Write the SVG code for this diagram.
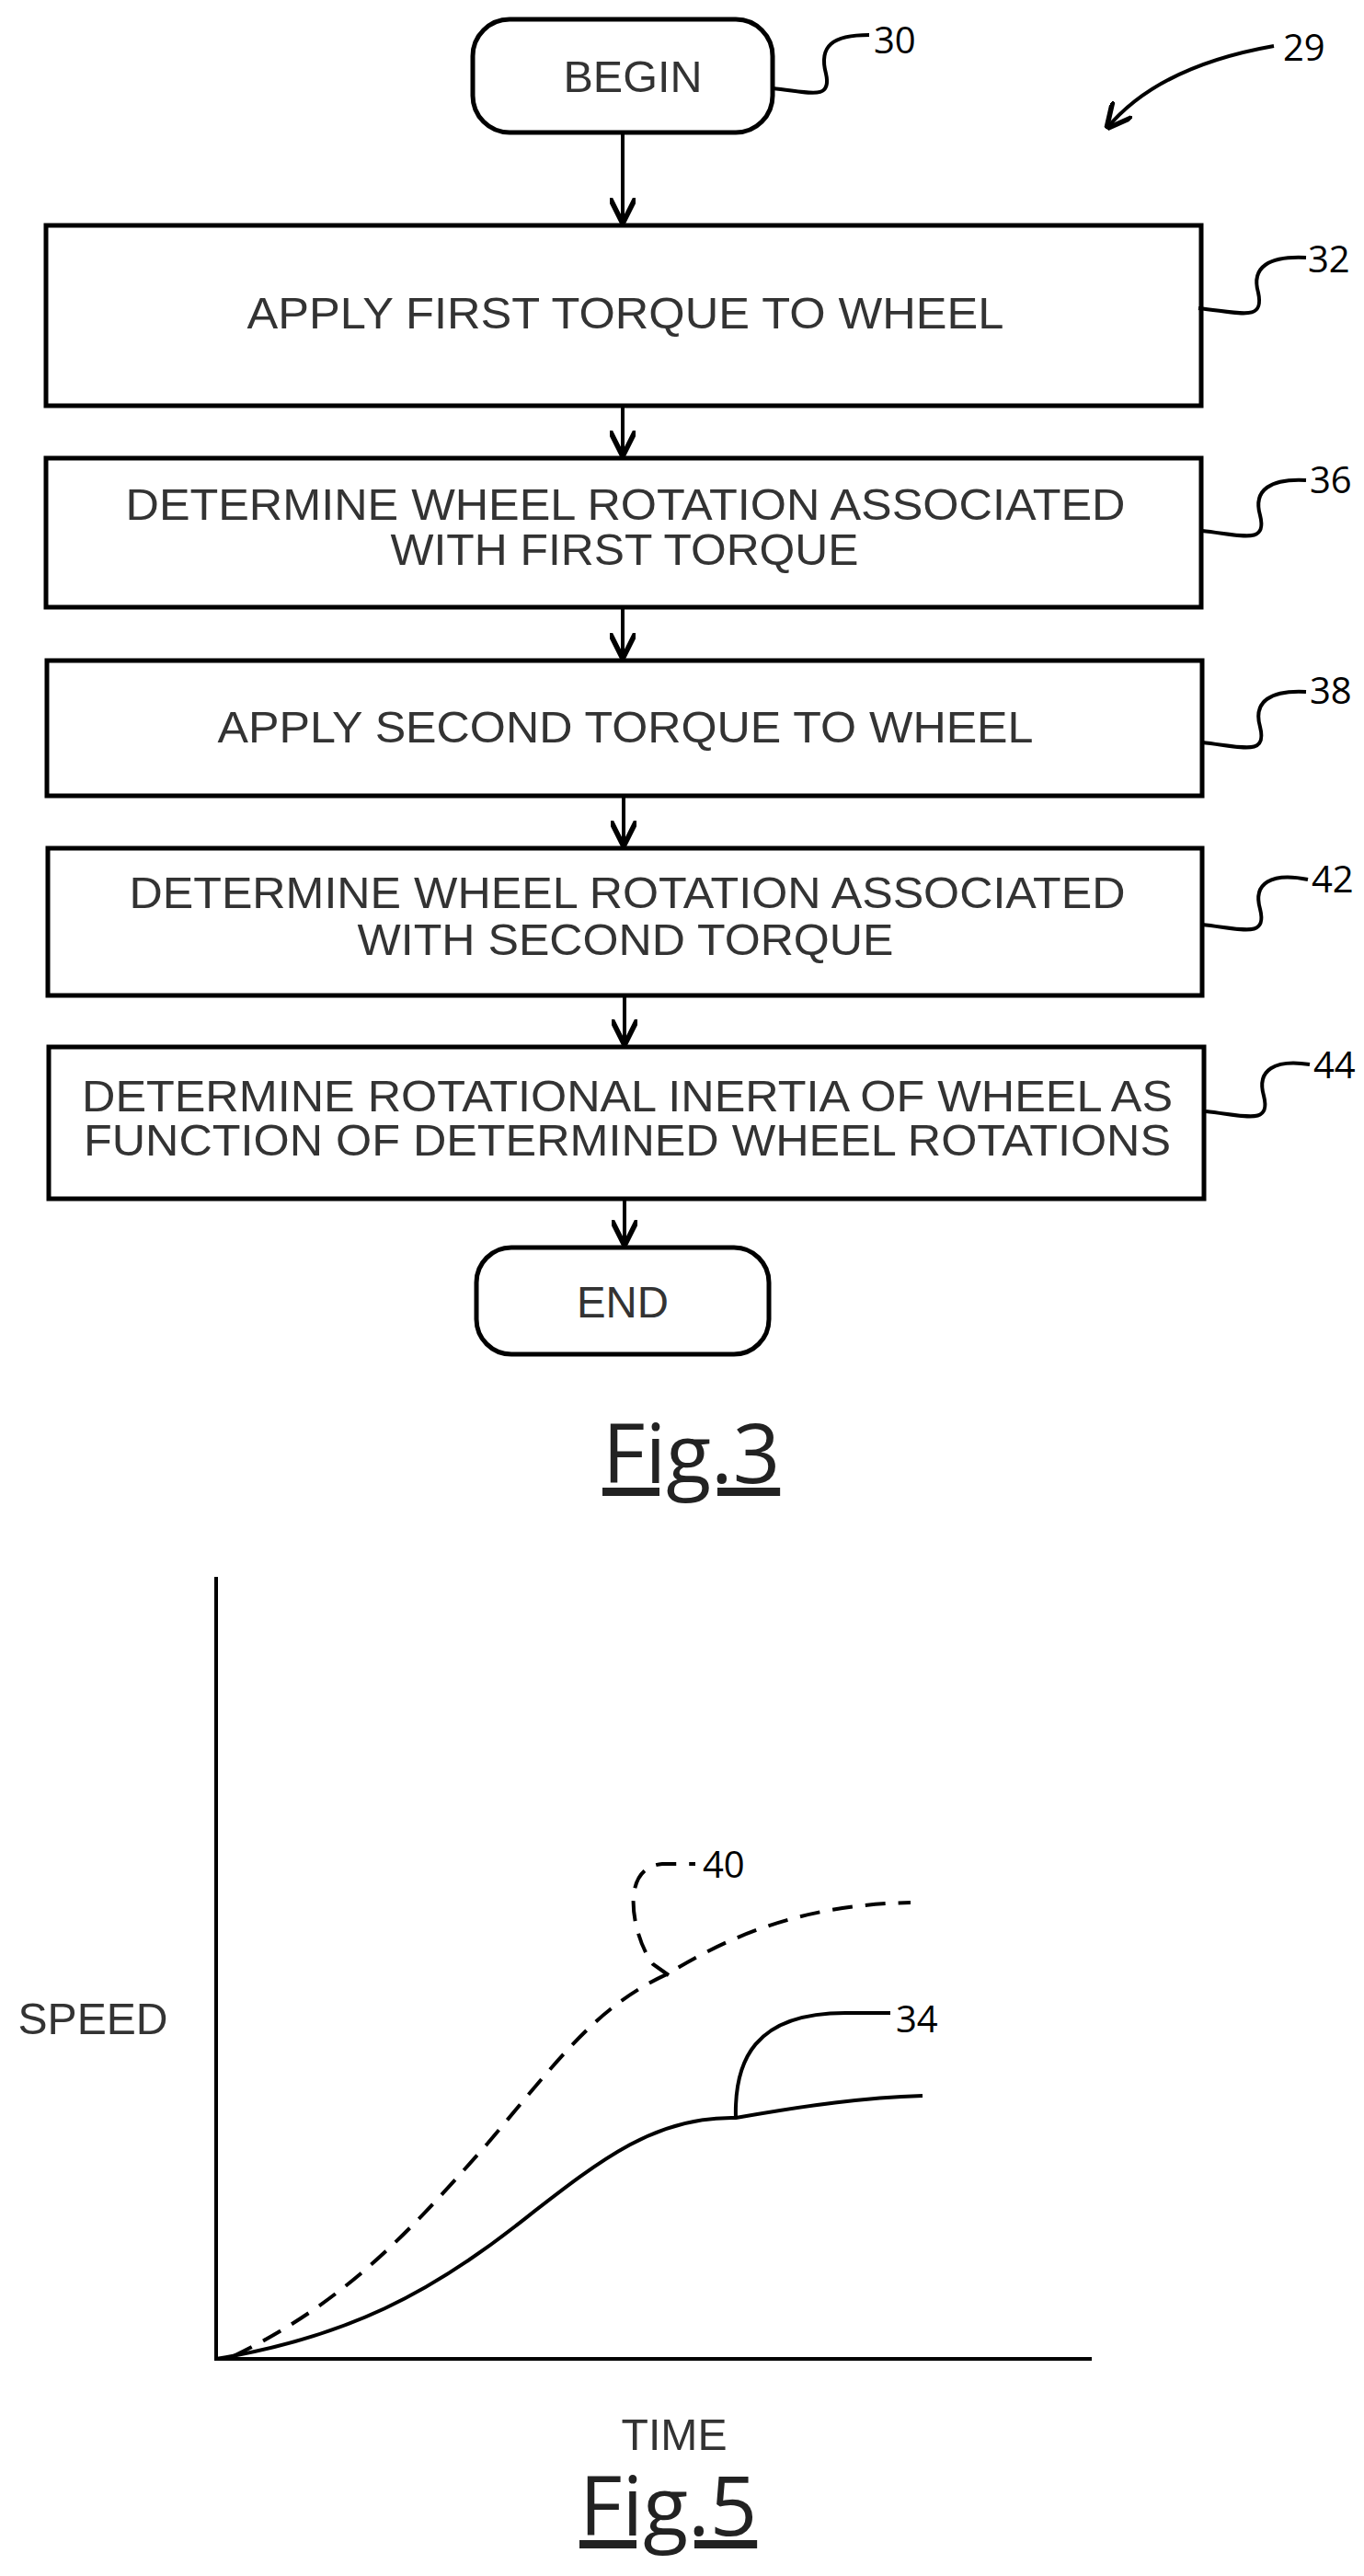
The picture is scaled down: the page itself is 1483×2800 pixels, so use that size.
<svg xmlns="http://www.w3.org/2000/svg" width="1483" height="2800" viewBox="0 0 1483 2800">
<defs>
<style>
.b{fill:#fff;stroke:#000;stroke-width:5}
.t{font-family:"Liberation Sans",Arial,sans-serif;font-size:48px;fill:#333;text-anchor:middle}
.n{font-family:"Open Sans","DejaVu Sans",sans-serif;font-size:40px;fill:#000}
.l{fill:none;stroke:#000;stroke-width:4}
.f{font-family:"Open Sans","DejaVu Sans",sans-serif;font-size:90px;fill:#222;text-decoration:underline}
</style>
<marker id="a" viewBox="0 0 10 10" refX="10" refY="5" markerWidth="7" markerHeight="7" orient="auto"><path d="M0,0 L10,5 L0,10" fill="none" stroke="#000" stroke-width="2"/></marker>
</defs>
<g id="n30"><rect class="b" x="514" y="21" width="326" height="123" rx="40"/><text class="t" x="688" y="100" textLength="151" lengthAdjust="spacingAndGlyphs">BEGIN</text></g>
<g id="n32"><rect class="b" x="50" y="245" width="1256" height="196"/><text class="t" x="680" y="357" textLength="823" lengthAdjust="spacingAndGlyphs">APPLY FIRST TORQUE TO WHEEL</text></g>
<g id="n36"><rect class="b" x="50" y="498" width="1256" height="162"/><text class="t" x="680" y="565" textLength="1087" lengthAdjust="spacingAndGlyphs">DETERMINE WHEEL ROTATION ASSOCIATED</text><text class="t" x="679" y="614" textLength="509" lengthAdjust="spacingAndGlyphs">WITH FIRST TORQUE</text></g>
<g id="n38"><rect class="b" x="51" y="718" width="1256" height="147"/><text class="t" x="680" y="807" textLength="887" lengthAdjust="spacingAndGlyphs">APPLY SECOND TORQUE TO WHEEL</text></g>
<g id="n42"><rect class="b" x="52" y="922" width="1255" height="160"/><text class="t" x="682" y="987" textLength="1083" lengthAdjust="spacingAndGlyphs">DETERMINE WHEEL ROTATION ASSOCIATED</text><text class="t" x="680" y="1038" textLength="583" lengthAdjust="spacingAndGlyphs">WITH SECOND TORQUE</text></g>
<g id="n44"><rect class="b" x="53" y="1138" width="1256" height="165"/><text class="t" x="682" y="1208" textLength="1186" lengthAdjust="spacingAndGlyphs">DETERMINE ROTATIONAL INERTIA OF WHEEL AS</text><text class="t" x="682" y="1256" textLength="1182" lengthAdjust="spacingAndGlyphs">FUNCTION OF DETERMINED WHEEL ROTATIONS</text></g>
<g id="end"><rect class="b" x="518" y="1356" width="318" height="116" rx="38"/><text class="t" x="677" y="1432" textLength="100" lengthAdjust="spacingAndGlyphs">END</text></g>
<g id="connectors" class="l">
<path class="l" d="M677,144 V243" marker-end="url(#a)"/>
<path class="l" d="M677,441 V496" marker-end="url(#a)"/>
<path class="l" d="M677,660 V716" marker-end="url(#a)"/>
<path class="l" d="M678,865 V920" marker-end="url(#a)"/>
<path class="l" d="M679,1082 V1136" marker-end="url(#a)"/>
<path class="l" d="M679,1303 V1354" marker-end="url(#a)"/>
</g>
<g id="refs">
<path class="l" d="M840,96 C880,100 905,110 898,80 C890,50 905,38 945,38"/>
<path class="l" d="M1303,335 C1350,340 1375,350 1368,318 C1360,290 1380,278 1420,280"/>
<path class="l" d="M1307,577 C1352,582 1378,592 1370,560 C1362,532 1382,520 1420,522"/>
<path class="l" d="M1307,807 C1352,812 1378,822 1370,790 C1362,762 1382,750 1420,752"/>
<path class="l" d="M1307,1005 C1352,1010 1378,1020 1370,988 C1362,960 1382,948 1422,956"/>
<path class="l" d="M1311,1208 C1356,1213 1382,1223 1374,1191 C1366,1163 1386,1151 1424,1157"/>
<path class="l" d="M1385,50 C1300,65 1240,95 1203,140" marker-end="url(#a)"/>
<text class="n" x="950" y="58">30</text>
<text class="n" x="1395" y="66">29</text>
<text class="n" x="1422" y="296">32</text>
<text class="n" x="1424" y="536">36</text>
<text class="n" x="1424" y="765">38</text>
<text class="n" x="1426" y="970">42</text>
<text class="n" x="1428" y="1172">44</text>
</g>
<text class="f" x="655" y="1612">Fig.3</text>
<g id="chart">
<path class="l" d="M235,1714 V2564 H1187"/>
<path class="l" d="M235,2564 C380,2540 470,2490 560,2420 C650,2350 710,2300 800,2302 C880,2288 940,2280 1003,2278"/>
<path class="l" d="M800,2302 C760,2300" stroke="none"/>
<path class="l" d="M254,2561 C380,2500 450,2420 530,2330 C610,2235 650,2180 727,2145 C800,2100 880,2070 990,2068" stroke-dasharray="22,14"/>
<path class="l" d="M800,2303 C798,2240 820,2188 919,2188 H968"/>
<path class="l" d="M727,2147 L710,2135 C690,2110 670,2030 720,2026 H756" stroke-dasharray="22,14"/>
<text class="n" x="764" y="2041">40</text>
<text class="n" x="974" y="2209">34</text>
<text class="t" x="101" y="2211" textLength="163" lengthAdjust="spacingAndGlyphs">SPEED</text>
<text class="t" x="733" y="2663" textLength="115" lengthAdjust="spacingAndGlyphs">TIME</text>
</g>
<text class="f" x="630" y="2756">Fig.5</text>
</svg>
